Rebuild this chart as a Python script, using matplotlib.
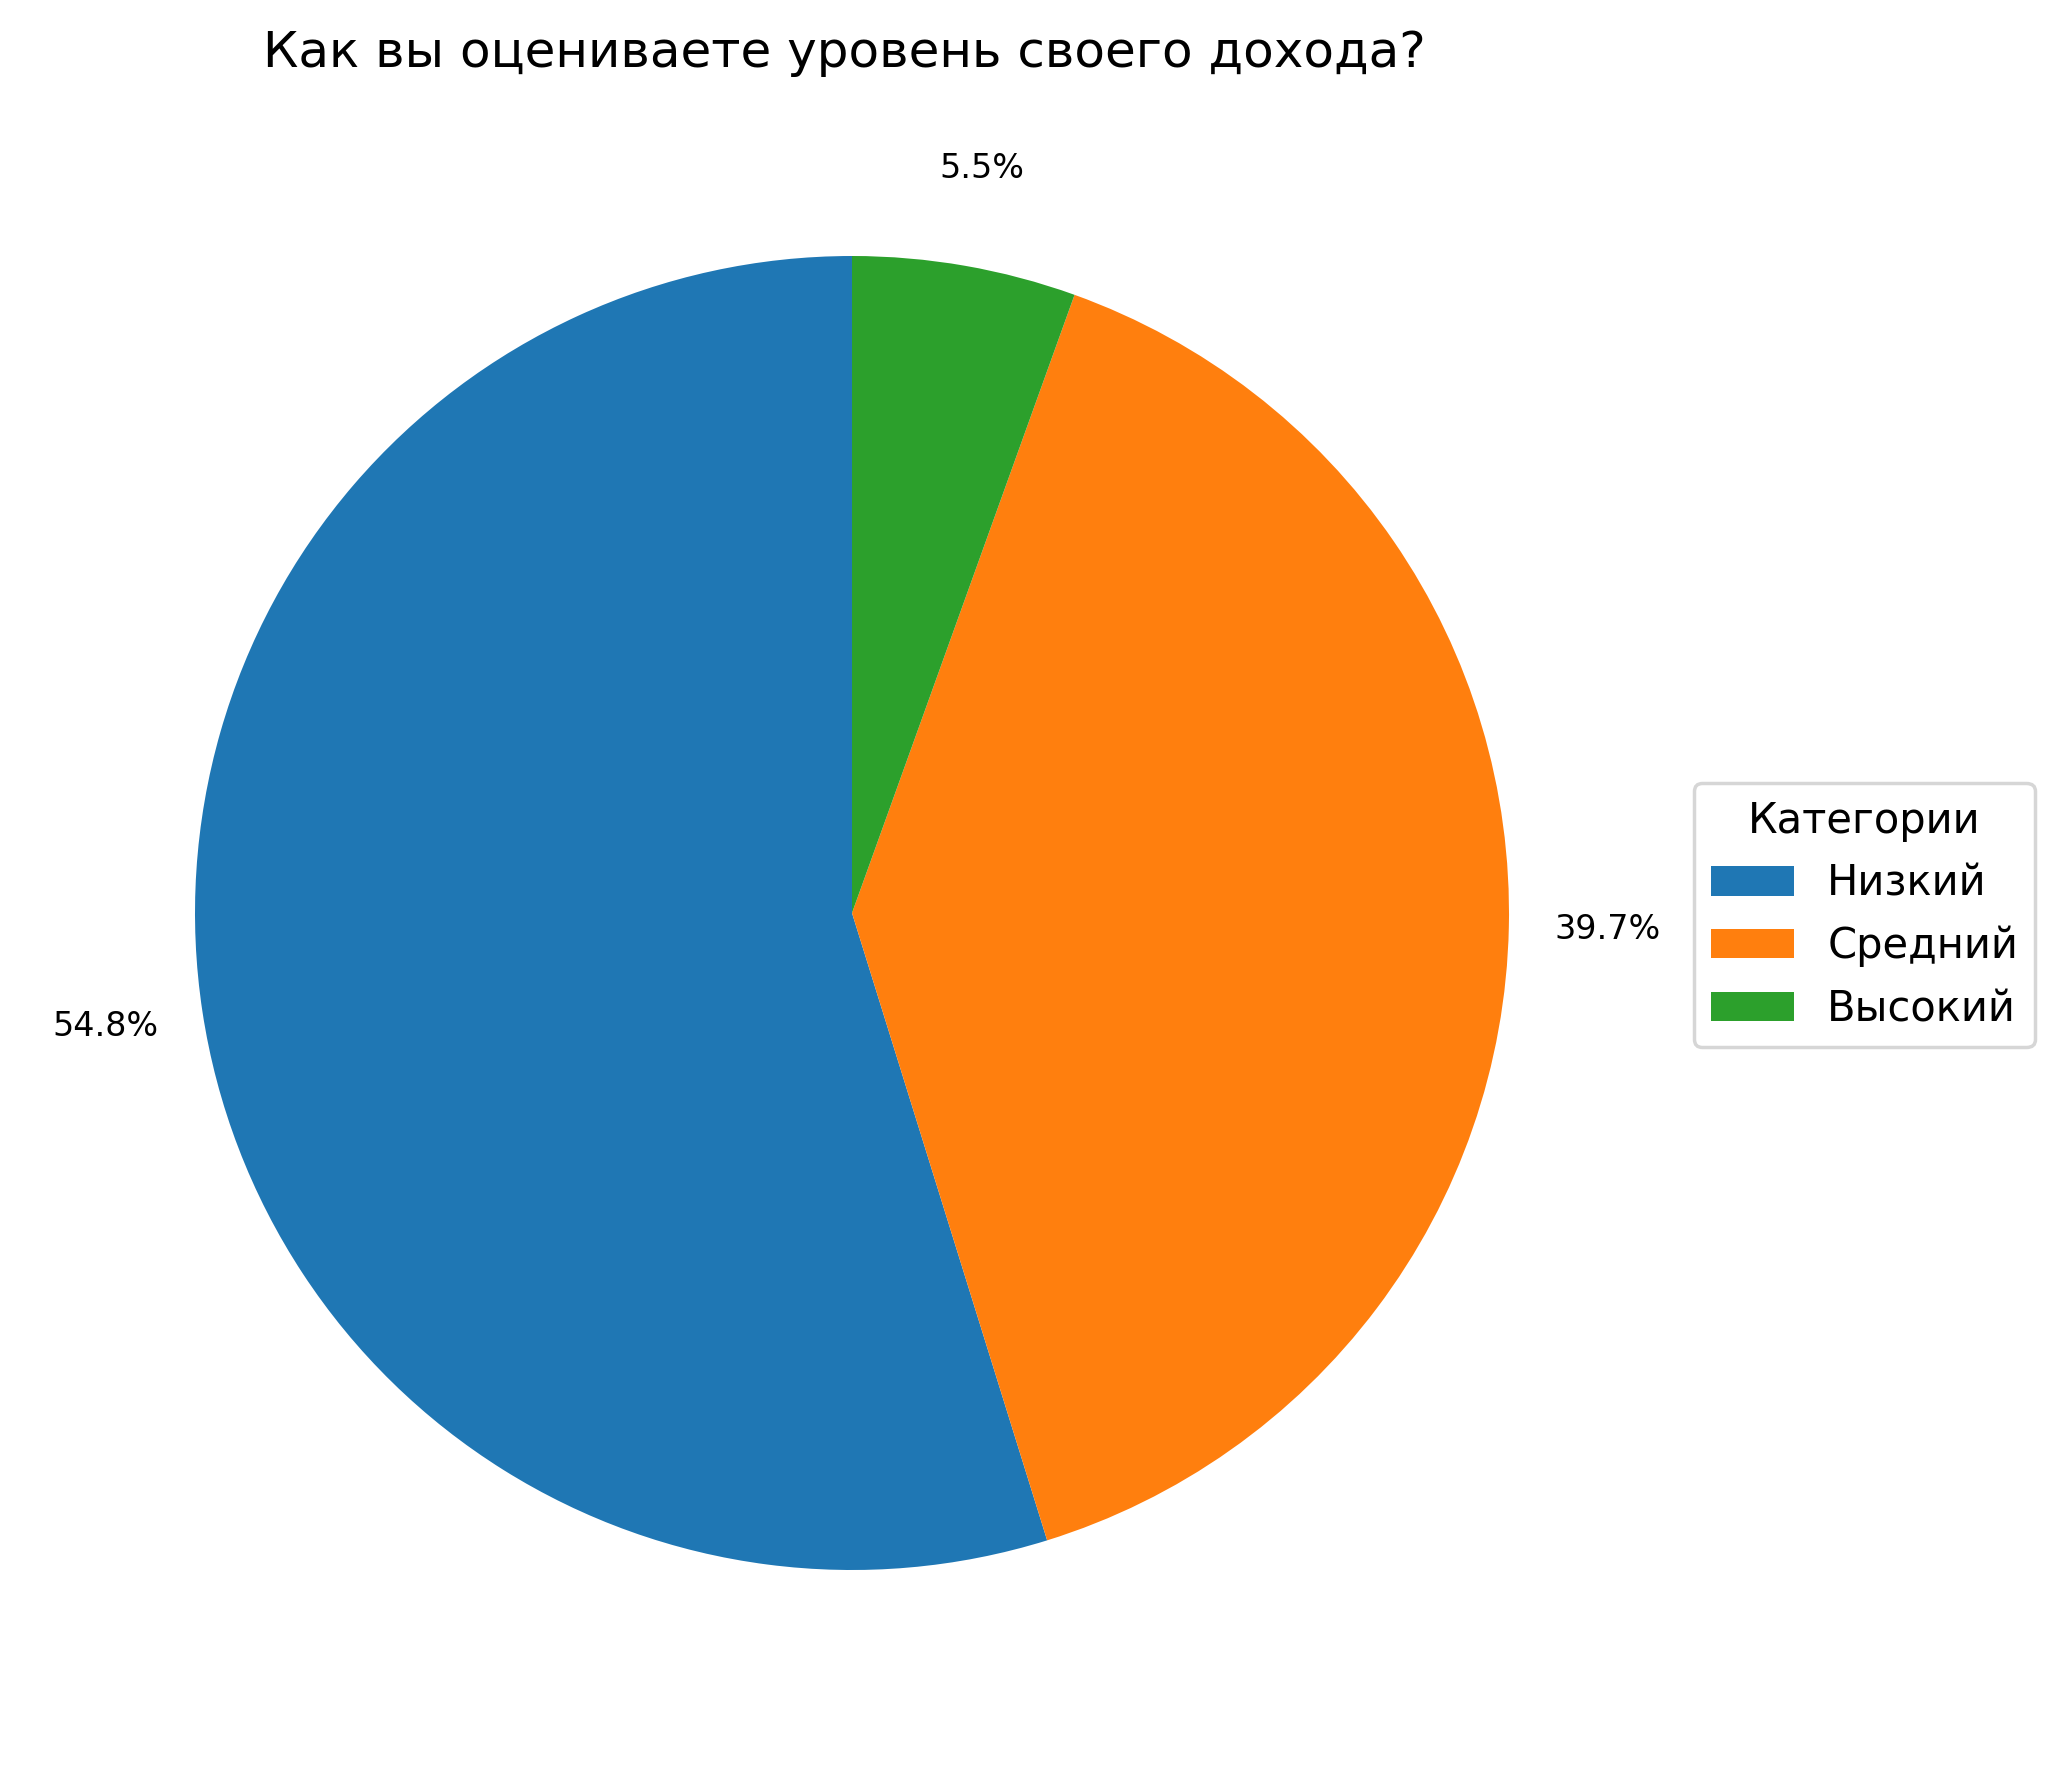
import matplotlib.pyplot as plt

categories = ["Низкий", "Средний", "Высокий"]
shares = [54.8, 39.7, 5.5]
colors = ["#1f77b4", "#ff7f0e", "#2ca02c"]

W, H = 2064, 1766
DPI = 250
fig = plt.figure(figsize=(W / DPI, H / DPI), dpi=DPI)

cx, cy, r = 852, 913, 657
half = 1.25 * r
ax = fig.add_axes([(cx - half) / W, (H - cy - half) / H, 2 * half / W, 2 * half / H])

wedges, texts, autotexts = ax.pie(shares, colors=colors, startangle=90,
                                  autopct="%1.1f%%", pctdistance=1.15,
                                  textprops={"fontsize": 9.6})
ax.set_xlim(-1.25, 1.25)
ax.set_ylim(-1.25, 1.25)
ax.set_aspect("equal")

fig.text(844 / W, 1 - 53 / H, "Как вы оцениваете уровень своего дохода?",
         ha="center", va="center", fontsize=14.4)

ax.legend(wedges, categories, title="Категории", loc="center left",
          bbox_to_anchor=(1673 / W, 1 - 915 / H), bbox_transform=fig.transFigure,
          fontsize=12, title_fontsize=12)

fig.savefig("out.png", dpi=DPI)
